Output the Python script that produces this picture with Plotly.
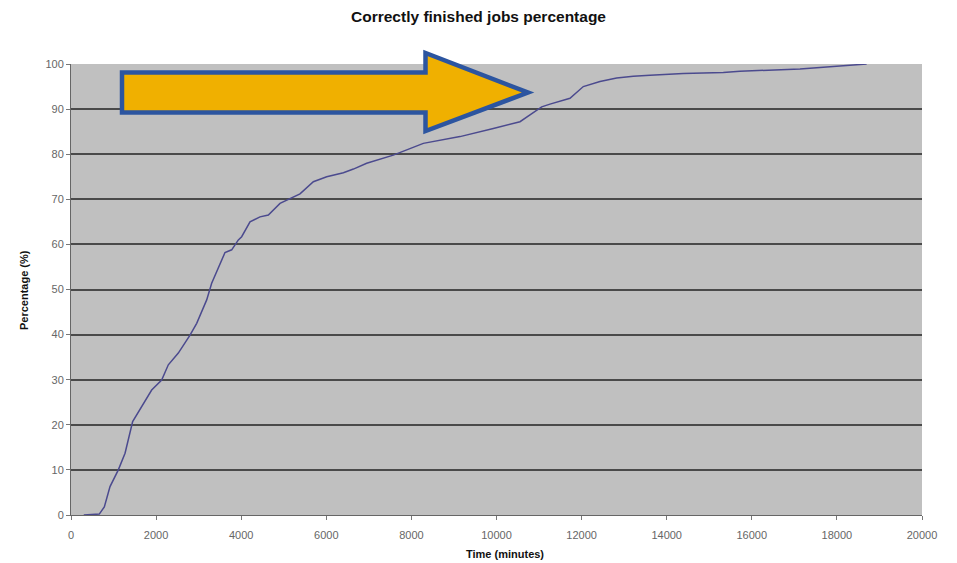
import plotly.graph_objects as go

# Data
time_minutes = [300, 665, 783, 917, 1112, 1270, 1449, 1622, 1896, 2131, 2287, 2522, 2797, 2954,
                3189, 3306, 3424, 3619, 3776, 3933, 4011, 4207, 4442, 4638, 4912, 5147, 5382,
                5696, 6010, 6402, 6637, 6949, 7575, 8280, 9142, 9925, 10552, 10787, 11062, 11257,
                11727, 12040, 12432, 12824, 13215, 13608, 14390, 15330, 15722, 17132, 18072, 18699]
percentage = [0, 0.2, 1.8, 6.3, 10, 13.7, 20.7, 23.3, 27.7, 29.9, 33.3, 35.9, 39.9, 42.5,
              47.7, 51.4, 53.9, 58.2, 58.8, 61, 61.7, 65, 66.1, 66.5, 69.1, 70.2, 71.2,
              73.9, 75, 75.9, 76.7, 78, 79.8, 82.4, 83.9, 85.7, 87.2, 88.7, 90.5, 91.1,
              92.4, 95, 96.1, 96.9, 97.3, 97.5, 97.9, 98.1, 98.4, 98.9, 99.5, 100]
x_ticks = [0, 2000, 4000, 6000, 8000, 10000, 12000, 14000, 16000, 18000, 20000]
x_tick_labels = [str(v) for v in x_ticks]
y_ticks = [0, 10, 20, 30, 40, 50, 60, 70, 80, 90, 100]

W, H = 957, 563
L, R, T, B = 71, 922, 64, 515

fig = go.Figure()
fig.add_trace(go.Scatter(x=time_minutes, y=percentage, mode="lines",
                         line=dict(color="#4b4a8e", width=1.5), showlegend=False))

def px_to_paper(px, py):
    return (px - L) / (R - L), (B - py) / (B - T)

arrow_px = [(122, 72.5), (425.5, 72.5), (425.5, 53), (528, 92.5), (425.5, 131),
            (425.5, 112.5), (122, 112.5)]
pts = [px_to_paper(a, b) for a, b in arrow_px]
path = "M " + " L ".join(f"{x:.5f},{y:.5f}" for x, y in pts) + " Z"
fig.add_shape(type="path", path=path, xref="paper", yref="paper",
              fillcolor="#f0b000", line=dict(color="#2c55a0", width=4.5), layer="above")

# axis titles as annotations at measured positions
ax_x, ax_y = px_to_paper(505, 554)
fig.add_annotation(text="<b>Time (minutes)</b>", x=ax_x, y=ax_y, xref="paper", yref="paper",
                   showarrow=False, font=dict(size=11, color="#111"), xanchor="center", yanchor="middle")
ay_x, ay_y = px_to_paper(24, 290)
fig.add_annotation(text="<b>Percentage (%)</b>", x=ay_x, y=ay_y, xref="paper", yref="paper",
                   showarrow=False, textangle=-90, font=dict(size=11, color="#111"),
                   xanchor="center", yanchor="middle")

fig.update_layout(
    width=W, height=H,
    margin=dict(l=L, r=W - R, t=T, b=H - B),
    paper_bgcolor="white", plot_bgcolor="#c0c0c0",
    font=dict(family="Liberation Sans, Arial, sans-serif", color="#000"),
    title=dict(text="<b>Correctly finished jobs percentage</b>", x=0.5, xanchor="center",
               y=1 - 17 / H, yanchor="middle", font=dict(size=15.5, color="#111")),
    xaxis=dict(range=[0, 20000], tickvals=x_ticks, ticktext=x_tick_labels,
               showgrid=False, zeroline=False, automargin=False,
               ticks="outside", ticklen=4, tickcolor="#777", showline=True,
               linecolor="#666", linewidth=1, ticklabelstandoff=6,
               tickfont=dict(size=11, color="#666")),
    yaxis=dict(range=[0, 100], tickvals=y_ticks, showgrid=True, gridcolor="#4a4a4a", gridwidth=1.5,
               zeroline=False, ticks="outside", ticklen=4, tickcolor="#777", showline=True,
               linecolor="#666", linewidth=1, automargin=False,
               tickfont=dict(size=11, color="#666")),
)

fig.write_html("out.html", config={"displayModeBar": False},
               post_script="document.body.style.margin='0';document.body.style.overflow='hidden';")
